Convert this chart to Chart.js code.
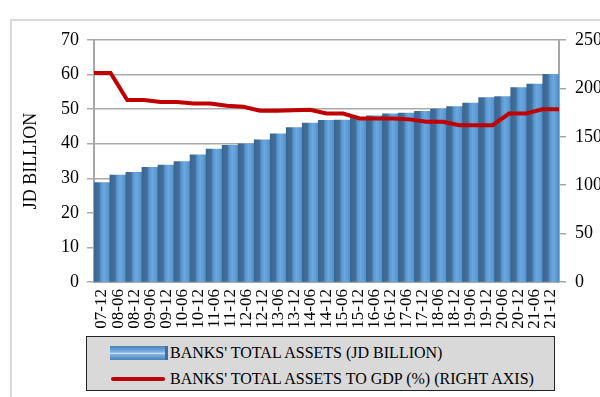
<!DOCTYPE html>
<html>
<head>
<meta charset="utf-8">
<script src="https://cdn.jsdelivr.net/npm/chart.js@4/dist/chart.umd.min.js"></script>
<style>
  html, body { margin: 0; padding: 0; background: #fff; }
  #wrap { position: relative; width: 600px; height: 397px; overflow: hidden; }
  #frame { position: absolute; left: 10px; top: 19px; width: 620px; height: 400px;
           border-left: 2px solid #d9d9d9; border-top: 2px solid #d9d9d9; }
  #chart { position: absolute; left: 0; top: 0; }
  #legend { position: absolute; left: 86px; top: 336px; width: 469px; height: 55px;
            box-sizing: border-box; background: #d9d9d9; border: 1.5px solid #222;
            font-family: "Liberation Serif", serif; font-size: 16px; color: #000; }
  .row { position: absolute; left: 0; right: 0; height: 20px; line-height: 20px; }
  .row span { position: absolute; left: 83px; white-space: nowrap; }
  .bar-key { position: absolute; left: 23px; top: 3px; width: 58px; height: 14px;
             background: linear-gradient(#4a80b6, #7db3e4 45%, #d8ebfa 52%, #7db3e4 60%, #4a80b6);
             border-right: 3px solid #3f6f9f; box-sizing: border-box; }
  .line-key { position: absolute; left: 24px; top: 8px; width: 54px; height: 4px;
              background: #c00000; border-radius: 2px; }
</style>
</head>
<body>
<div id="wrap">
  <div id="frame"></div>
  <canvas id="chart" width="600" height="397"></canvas>
  <div id="legend">
    <div class="row" style="top:6px"><div class="bar-key"></div><span>BANKS' TOTAL ASSETS (JD BILLION)</span></div>
    <div class="row" style="top:32px"><div class="line-key"></div><span>BANKS' TOTAL ASSETS TO GDP (%) (RIGHT AXIS)</span></div>
  </div>
</div>
<script>
// half-year periods, yy-mm
var periods = ["07-12","08-06","08-12","09-06","09-12","10-06","10-12","11-06","11-12",
  "12-06","12-12","13-06","13-12","14-06","14-12","15-06","15-12","16-06","16-12",
  "17-06","17-12","18-06","18-12","19-06","19-12","20-06","20-12","21-06","21-12"];

// banks' total assets, JD billion
var totalAssets = [28.7, 30.9, 31.7, 33.1, 33.8, 34.8, 36.7, 38.4, 39.5,
  39.9, 41.1, 42.8, 44.6, 45.9, 46.7, 46.8, 47.3, 48.0, 48.6,
  48.8, 49.3, 50.0, 50.7, 51.7, 53.3, 53.6, 56.2, 57.2, 60.0];

// banks' total assets to GDP, %
var assetsToGdp = [216, 216, 188, 188, 186, 186, 184.5, 184.5, 182,
  181, 177, 177, 177.5, 178, 174, 174, 169, 169, 169,
  168, 165.5, 165.5, 162, 162, 162, 174, 174, 178.5, 178.5];

var leftMax = 70, leftStep = 10;
var rightMax = 250, rightStep = 50;

var serif = "Liberation Serif";

// shaded face for each column, dark side on the left
function barFill(ctx) {
  var chart = ctx.chart;
  if (!chart.chartArea) return "#5b9bd5";
  var xs = chart.scales.x;
  var cx = xs.getPixelForValue(ctx.dataIndex);
  var w = xs.width / periods.length;
  var g = chart.ctx.createLinearGradient(cx - w / 2, 0, cx + w / 2, 0);
  g.addColorStop(0, "#3a6690");
  g.addColorStop(0.32, "#43709c");
  g.addColorStop(0.42, "#5893cb");
  g.addColorStop(0.62, "#6ba8de");
  g.addColorStop(0.85, "#5b9bd5");
  g.addColorStop(1, "#4e89c0");
  return g;
}

new Chart("chart", {
  type: "bar",
  data: {
    labels: periods,
    datasets: [{
      type: "line",
      data: assetsToGdp,
      xAxisID: "x2",
      yAxisID: "y2",
      borderColor: "#c00000",
      borderWidth: 4,
      pointRadius: 0,
      tension: 0,
      order: 0
    }, {
      type: "bar",
      data: totalAssets,
      xAxisID: "x",
      yAxisID: "y",
      backgroundColor: barFill,
      borderWidth: 0,
      barPercentage: 1,
      categoryPercentage: 1,
      grouped: false,
      inflateAmount: 0.5,
      order: 1
    }]
  },
  options: {
    responsive: false,
    animation: false,
    datasets: { bar: { barPercentage: 1, categoryPercentage: 1 } },
    layout: { padding: { top: 40, left: 0, right: 0, bottom: 0 } },
    plugins: { legend: { display: false }, tooltip: { enabled: false } },
    scales: {
      x: {
        type: "category",
        offset: true,
        grid: { display: false, drawTicks: false },
        border: { display: true, color: "#a6a6a6", width: 2 },
        ticks: {
          autoSkip: false, minRotation: 90, maxRotation: 90, padding: 7,
          color: "#000", font: { family: serif, size: 17 }
        },
        afterFit: function (s) { s.height = 115; }
      },
      x2: {
        type: "category",
        labels: periods,
        offset: false,
        display: false
      },
      y: {
        position: "left",
        min: 0, max: leftMax,
        ticks: { stepSize: leftStep, padding: 8, color: "#000", font: { family: serif, size: 18 } },
        grid: { color: "#aaaaaa", lineWidth: 1.5, tickLength: 7 },
        border: { display: true, color: "#a6a6a6", width: 2 },
        title: {
          display: true, text: "JD BILLION", color: "#000",
          font: { family: serif, size: 18 }, padding: { top: 20, bottom: 0 }
        },
        afterFit: function (s) { s.width = 94; }
      },
      y2: {
        position: "right",
        min: 0, max: rightMax,
        ticks: { stepSize: rightStep, padding: 9, color: "#000", font: { family: serif, size: 18 } },
        grid: { drawOnChartArea: false, color: "#a6a6a6", lineWidth: 1.5, tickLength: 7 },
        border: { display: true, color: "#a6a6a6", width: 2 },
        afterFit: function (s) { s.width = 41; }
      }
    }
  }
});
</script>
</body>
</html>
